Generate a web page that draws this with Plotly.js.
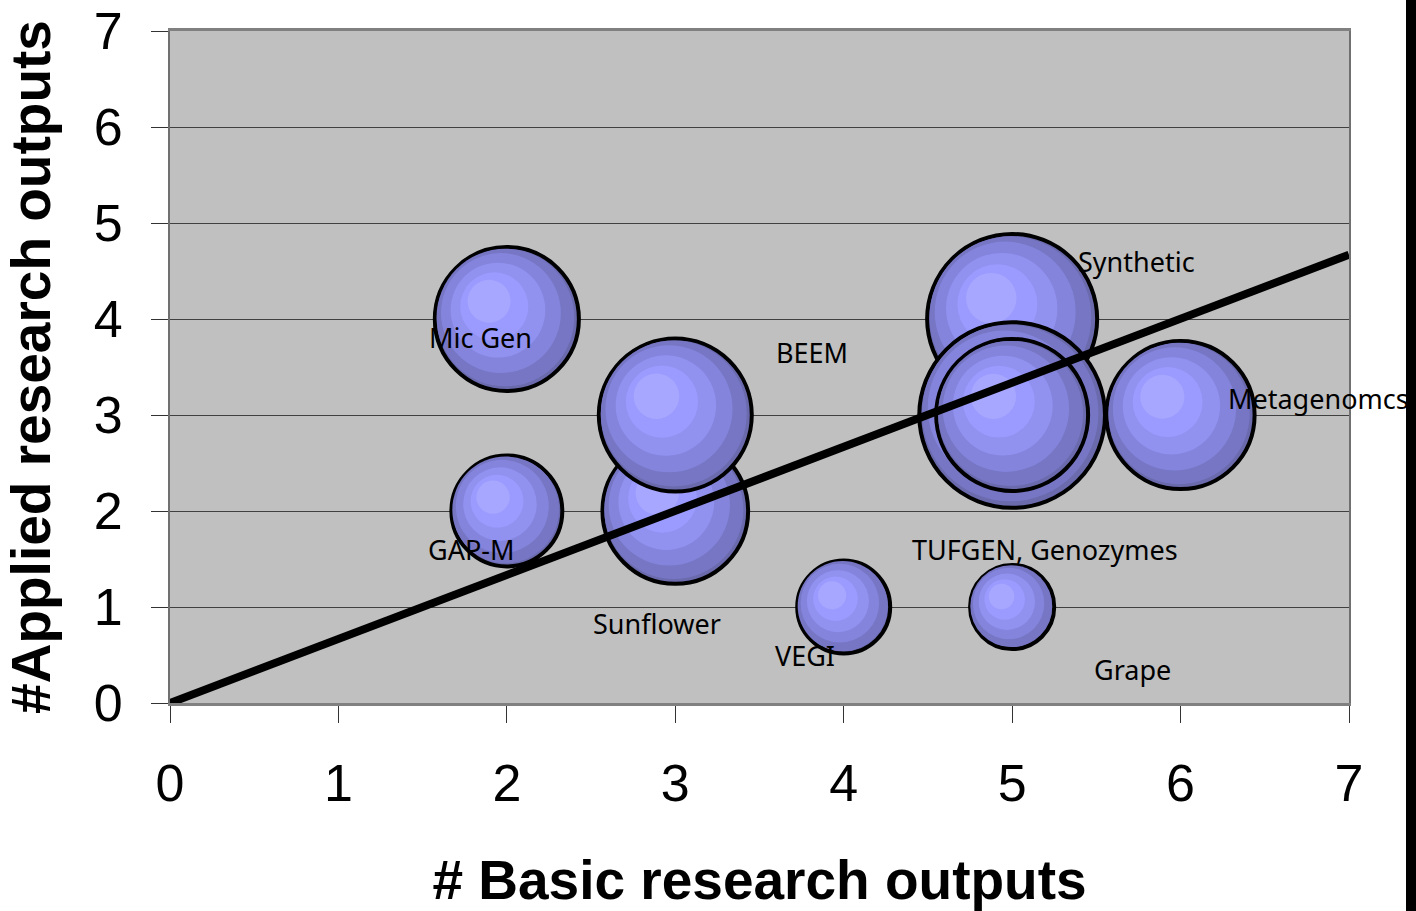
<!DOCTYPE html>
<html><head><meta charset="utf-8">
<script src="https://cdn.plot.ly/plotly-3.0.1.min.js"></script>
<style>
html,body{margin:0;padding:0;background:#fff;overflow:hidden;width:1416px;height:911px}
#chart{width:1406px;height:911px;position:absolute;left:0;top:0}
#edge{position:absolute;left:1406px;top:0;width:10px;height:911px;background:#000}
</style></head><body><div id="chart"></div><div id="edge"></div>
<script>
// ---- data ----
const projects       = ['Sunflower','BEEM','Mic Gen','GAP-M','VEGI','Synthetic','TUFGEN','Genozymes','Metagenomcs','Grape'];
const basicOutputs   = [3, 3, 2, 2, 4, 5, 5, 5, 6, 5];
const appliedOutputs = [2, 3, 4, 2, 1, 4, 3, 3, 3, 1];
const bubbleValue    = [56, 61.6, 54.8, 33, 23.5, 75.7, 90, 60.8, 57.8, 19.4];

const labelTexts = ['Mic Gen','BEEM','Synthetic','Metagenomcs','GAP-M','TUFGEN, Genozymes','Sunflower','VEGI','Grape'];
const labelX     = [1.527, 3.589, 5.377, 6.27, 1.521, 4.391, 2.501, 3.583, 5.472];
const labelY     = [3.81, 3.656, 4.594, 3.177, 1.604, 1.604, 0.823, 0.49, 0.344];

const trendX = [0, 7];
const trendY = [0, 4.67];

const xTicks = [0,1,2,3,4,5,6,7];
const yTicks = [0,1,2,3,4,5,6,7];

// ---- layout constants ----
const W = 1406, H = 911;
const M = {l:170, r:57, t:31, b:208};
const pxPerX = (W - M.l - M.r) / 7;
const pxPerY = (H - M.t - M.b) / 7;

// shaded bubble rendering: concentric discs shifted to upper-left
const bandFrac  = [1, 0.93, 0.81, 0.64, 0.46, 0.29];
const bandShift = [0, 0.02, 0.08, 0.12, 0.17, 0.24];
const bandColor = ['#6a6aad','#7676c4','#8484dc','#9191f0','#9b9bff','#a7a7ff'];

const traces = [];
projects.forEach((name, i) => {
  const r0 = 10 * Math.sqrt(bubbleValue[i]);
  const xs = [], ys = [], sz = [], lw = [];
  bandFrac.forEach((f, k) => {
    xs.push(basicOutputs[i] - bandShift[k] * r0 / pxPerX);
    ys.push(appliedOutputs[i] + bandShift[k] * r0 / pxPerY);
    sz.push(k === 0 ? 2 * r0 - 4 : 2 * r0 * f);
    lw.push(k === 0 ? 4 : 0);
  });
  traces.push({
    type: 'scatter', mode: 'markers', name: name, x: xs, y: ys,
    hoverinfo: 'skip', showlegend: false, cliponaxis: false,
    marker: {size: sz, sizemode: 'diameter', color: bandColor, opacity: 1,
             line: {color: '#000', width: lw}}
  });
});
traces.push({
  type: 'scatter', mode: 'lines', x: trendX, y: trendY, showlegend: false,
  line: {color: '#000', width: 8}, hoverinfo: 'skip'
});

const annotations = labelTexts.map((t, i) => ({
  text: t, x: labelX[i], y: labelY[i], xref: 'x', yref: 'y',
  xanchor: 'left', yanchor: 'middle', showarrow: false,
  font: {family: 'Noto Sans, Open Sans, sans-serif', size: 27, color: '#000'}
}));

const axisFont = {family: 'Liberation Sans, Arial, sans-serif', size: 52, color: '#000'};
const titleFont = {family: 'Liberation Sans, Arial, sans-serif', size: 55, color: '#000', weight: 'bold'};

const layout = {
  width: W, height: H,
  margin: M,
  paper_bgcolor: '#fff', plot_bgcolor: '#c0c0c0',
  showlegend: false,
  annotations: annotations,
  xaxis: {
    range: [0, 7], tickvals: xTicks, ticktext: xTicks.map(String),
    ticks: 'outside', ticklen: 17, tickwidth: 1, tickcolor: '#333',
    showgrid: false, zeroline: false,
    showline: true, linecolor: '#808080', linewidth: 3, mirror: true,
    tickfont: axisFont, ticklabelstandoff: 16,
    title: {text: '# Basic research outputs', font: titleFont, standoff: 62}
  },
  yaxis: {
    range: [0, 7], tickvals: yTicks, ticktext: yTicks.map(String),
    ticks: 'outside', ticklen: 17, tickwidth: 1, tickcolor: '#333',
    showgrid: true, gridcolor: '#404040', gridwidth: 1, zeroline: false,
    showline: true, linecolor: '#707070', linewidth: 2, mirror: true,
    tickfont: axisFont, ticklabelstandoff: 18,
    title: {text: '#Applied research outputs', font: titleFont, standoff: 30}
  }
};

Plotly.newPlot('chart', traces, layout, {displayModeBar: false, staticPlot: true});
</script>
</body></html>
